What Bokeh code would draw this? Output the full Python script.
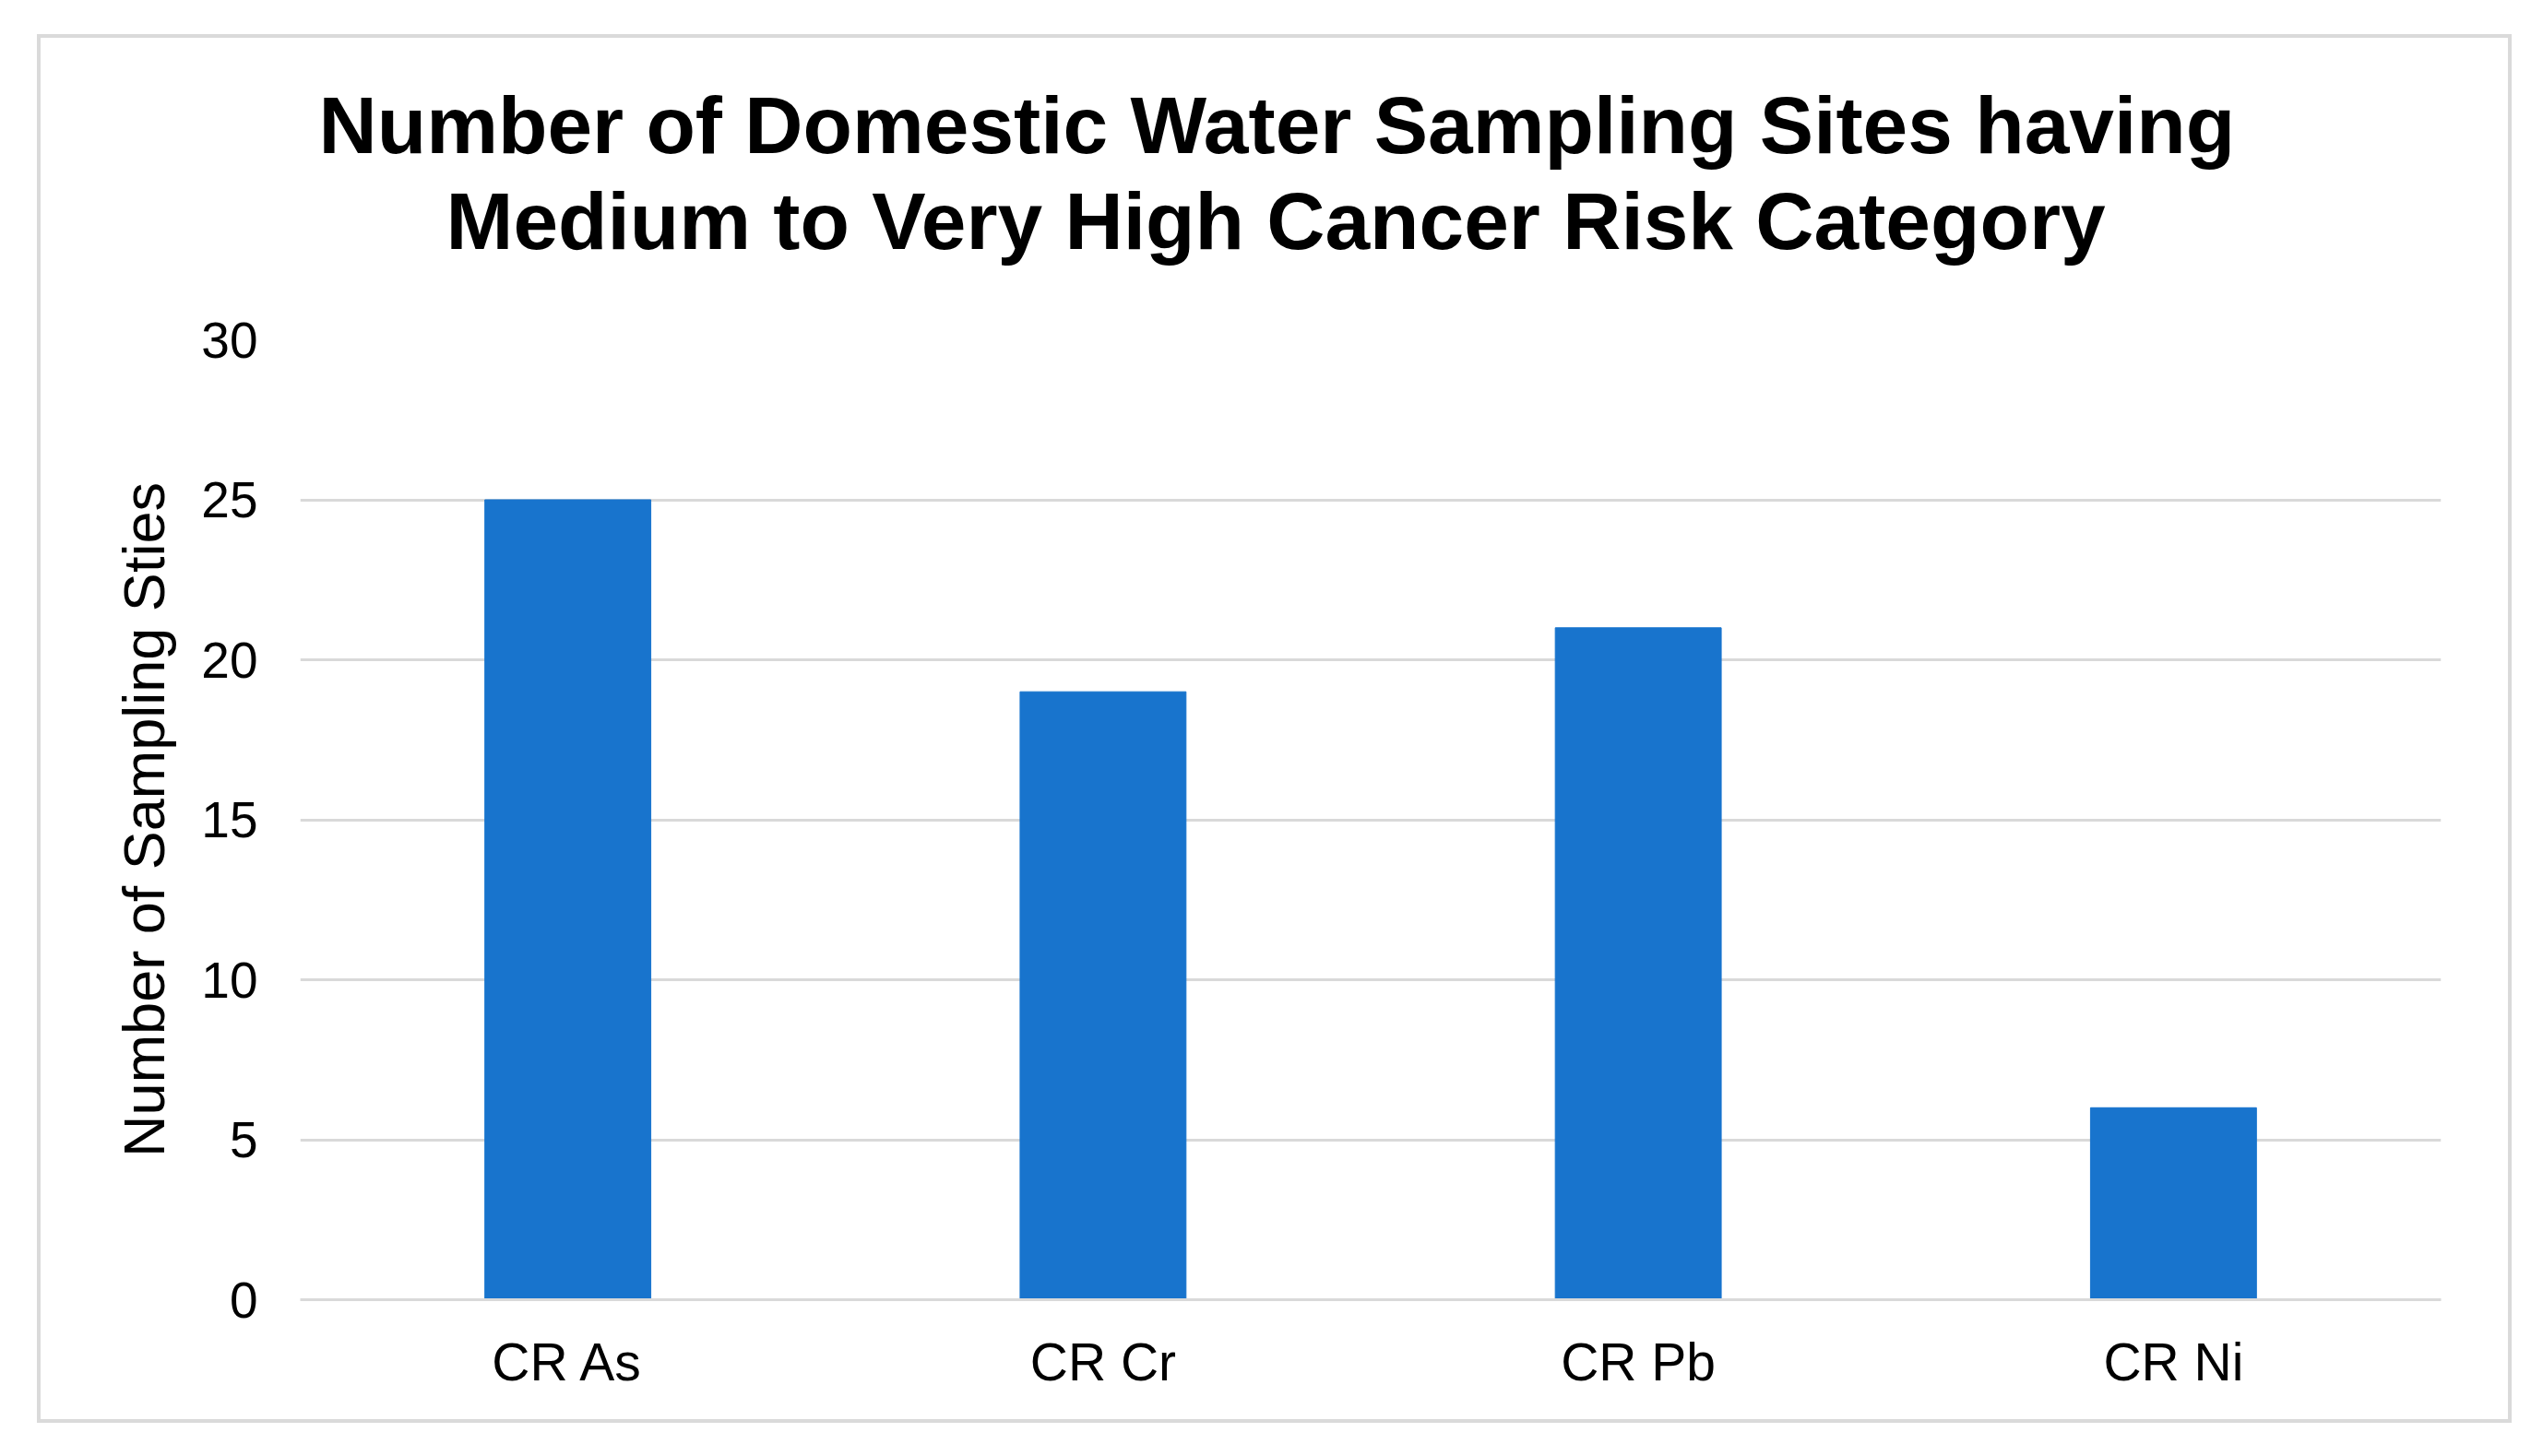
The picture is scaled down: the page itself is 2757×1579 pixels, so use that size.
from bokeh.plotting import figure
from bokeh.models import Title, FactorRange, Range1d, FixedTicker
from bokeh.embed import file_html
from bokeh.resources import INLINE

categories = ["CR As", "CR Cr", "CR Pb", "CR Ni"]
counts = [25, 19, 21, 6]
y_ticks = [0, 5, 10, 15, 20, 25, 30]
title_lines = ["Number of Domestic Water Sampling Sites having",
               "Medium to Very High Cancer Risk Category"]
y_label = "Number of Sampling Sties"

FONT = "Liberation Sans"
BAR = "#1874CD"
GRID = "#D9D9D9"

p = figure(x_range=FactorRange(*categories, range_padding=0),
           y_range=Range1d(0, 30),
           width=2683, height=1506,
           output_backend="svg", toolbar_location=None,
           min_border_left=281, min_border_right=81,
           min_border_top=327, min_border_bottom=138)
p.margin = (37, 0, 0, 40)
p.styles = {"border": "4px solid #DADADA"}
p.outline_line_color = None

p.vbar(x=categories, top=counts, width=0.31, color=BAR)

# titles: first added sits nearest the frame
for txt, st, off in [(title_lines[1], 160, 158), (title_lines[0], -152, 20)]:
    p.add_layout(Title(text=txt, align="left", offset=off,
                       text_font=FONT, text_font_size="87.5px",
                       text_font_style="bold", text_color="#000000",
                       standoff=st), "above")

p.yaxis.ticker = FixedTicker(ticks=y_ticks)
p.yaxis.axis_line_color = None
p.yaxis.major_tick_line_color = None
p.yaxis.minor_tick_line_color = None
p.yaxis.major_label_text_font = FONT
p.yaxis.major_label_text_font_size = "55px"
p.yaxis.major_label_text_color = "#000000"
p.yaxis.major_label_standoff = 40
p.yaxis.axis_label = y_label
p.yaxis.axis_label_text_font = FONT
p.yaxis.axis_label_text_font_size = "63px"
p.yaxis.axis_label_text_font_style = "normal"
p.yaxis.axis_label_text_color = "#000000"
p.yaxis.axis_label_standoff = 24

p.xaxis.axis_line_color = GRID
p.xaxis.axis_line_width = 3
p.xaxis.major_tick_line_color = None
p.xaxis.minor_tick_line_color = None
p.xaxis.major_label_text_font = FONT
p.xaxis.major_label_text_font_size = "57px"
p.xaxis.major_label_text_color = "#000000"
p.xaxis.major_label_standoff = 29

p.xgrid.grid_line_color = None
p.ygrid.grid_line_color = GRID
p.ygrid.grid_line_width = 3

open("out.html", "w").write(file_html(p, INLINE))
